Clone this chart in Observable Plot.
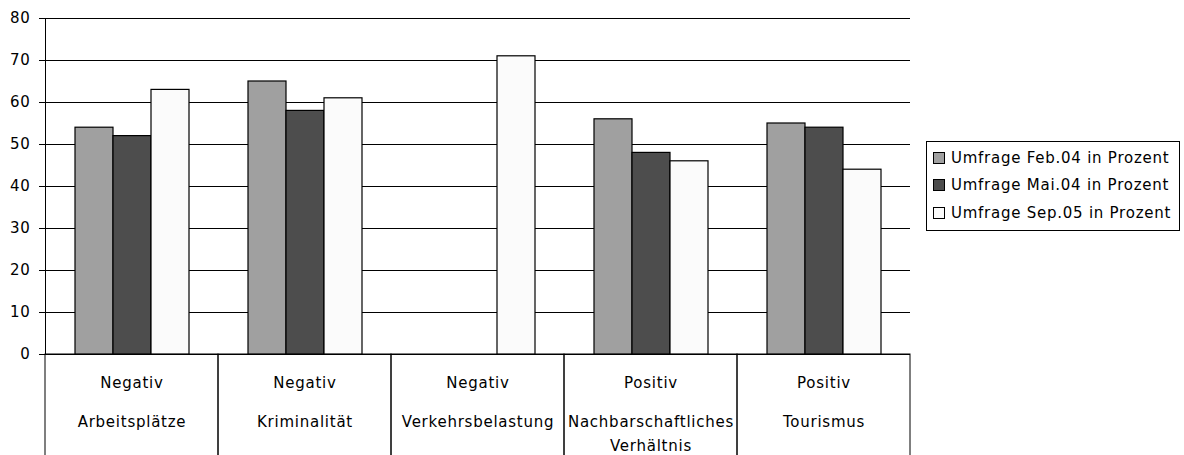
<!DOCTYPE html>
<html>
<head>
<meta charset="utf-8">
<script src="https://cdn.jsdelivr.net/npm/d3@7"></script>
<script src="https://cdn.jsdelivr.net/npm/@observablehq/plot@0.6"></script>
<style>
  body { margin: 0; background: #fff; }
  #wrap { position: relative; width: 1184px; height: 455px; overflow: hidden; }
  #legend { position: absolute; left: 926px; top: 141px; width: 254px; height: 90px; box-sizing: border-box;
            border: 1px solid #000; font: 15px "DejaVu Sans", sans-serif; letter-spacing: 0.75px; color: #000; padding-top: 2px; }
  .item { display: flex; align-items: center; height: 27.5px; padding-left: 6px; white-space: nowrap; }
  .sw { width: 10px; height: 10px; border: 1px solid #000; margin-right: 6px; flex: none; }
</style>
</head>
<body>
<div id="wrap"><div id="legend"></div></div>
<script>
const categories = ["Arbeitsplätze", "Kriminalität", "Verkehrsbelastung", "Nachbarschaftliches Verhältnis", "Tourismus"];
const valence = ["Negativ", "Negativ", "Negativ", "Positiv", "Positiv"];
const series = ["Umfrage Feb.04 in Prozent", "Umfrage Mai.04 in Prozent", "Umfrage Sep.05 in Prozent"];
const feb04 = [54, 65, null, 56, 55];
const mai04 = [52, 58, null, 48, 54];
const sep05 = [63, 61, 71, 46, 44];
const colors = ["#a0a0a0", "#4d4d4d", "#fbfbfb"];
const yTicks = [0, 10, 20, 30, 40, 50, 60, 70, 80];

const rows = [];
[feb04, mai04, sep05].forEach((vals, s) => vals.forEach((v, i) => {
  if (v != null) rows.push({category: categories[i], series: series[s], value: v});
}));

const chart = Plot.plot({
  width: 1184, height: 455,
  marginLeft: 44, marginRight: 274, marginTop: 18, marginBottom: 101,
  style: {fontFamily: "DejaVu Sans", fontSize: "15px", color: "#000", background: "#fff", letterSpacing: "0.75px"},
  fx: {domain: categories, padding: 0, axis: null},
  x: {domain: series, paddingInner: 0, paddingOuter: 0.74, axis: null},
  y: {domain: [0, 80], ticks: yTicks, tickSize: 6, tickPadding: 9, label: null, line: true},
  color: {domain: series, range: colors},
  marks: [
    Plot.ruleY(yTicks, {stroke: "#000", strokeOpacity: 1}),
    Plot.rect(categories, {fx: d => d, y1: () => 0, y2: () => -24.5, stroke: "#000", fill: "none"}),
    Plot.barY(rows, {fx: "category", x: "series", y: "value", fill: "series", stroke: "#000", strokeWidth: 1.2}),
    Plot.text(categories, {fx: d => d, text: (d, i) => valence[i], frameAnchor: "bottom", lineAnchor: "top", dy: 22.4, fill: "#000"}),
    Plot.text(categories, {fx: d => d, text: d => d, frameAnchor: "bottom", lineAnchor: "top", lineHeight: 1.6, lineWidth: 11, dy: 55.8, fill: "#000"})
  ]
});
document.getElementById("wrap").prepend(chart);

const legend = document.getElementById("legend");
series.forEach((s, i) => {
  const it = document.createElement("div");
  it.className = "item";
  const sw = document.createElement("span");
  sw.className = "sw";
  sw.style.background = colors[i];
  it.appendChild(sw);
  it.appendChild(document.createTextNode(s));
  legend.appendChild(it);
});
</script>
</body>
</html>
